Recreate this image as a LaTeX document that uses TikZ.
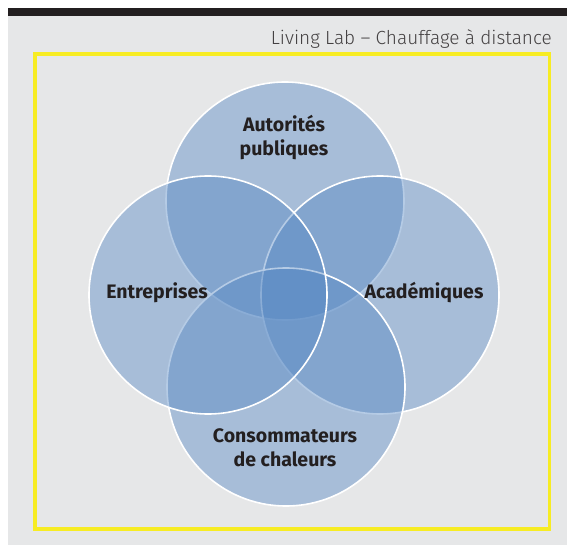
\documentclass[tikz,border=0pt]{standalone}
\usepackage{fontspec}
\setmainfont{Fira Sans}
\newfontfamily\titlefont{Fira Sans Light}
\definecolor{ink}{RGB}{35,31,32}
\definecolor{bggray}{RGB}{230,231,232}
\definecolor{vennblue}{RGB}{85,135,195}
\definecolor{frameyellow}{RGB}{247,236,35}

\begin{document}
\begin{tikzpicture}[
    x=1pt, y=-1pt,
    circ/.style={circle, draw=white, line width=1.6pt, fill=vennblue, fill opacity=0.43, minimum size=238pt, inner sep=0pt},
    lbl/.style={font=\bfseries\fontsize{19.5}{24}\selectfont, text=ink, align=center},
    title/.style={font=\titlefont\fontsize{19}{22}\selectfont, text=ink!85, inner sep=0pt}
]
\useasboundingbox (0,0) rectangle (567,545);
\fill[white] (0,0) rectangle (567,545);
\fill[bggray] (8,8) rectangle (567,545);
\fill[ink] (8,8) rectangle (567,16);
\draw[frameyellow, line width=3.5pt] (35,54) rectangle (549.5,529);

\node (titre) [title, anchor=east] at (552,39) {Living Lab – Chauffage à distance};

% les quatre cercles
\node (autorites) [circ] at (285,201) {};
\node (academiques) [circ] at (380,295) {};
\node (consommateurs) [circ] at (286,387) {};
\node (entreprises) [circ] at (208,295) {};

\node (lautorites) [lbl] at (284,138) {Autorités\\publiques};
\node (lentreprises) [lbl] at (157,293) {Entreprises};
\node (lacademiques) [lbl] at (424,293) {Académiques};
\node (lconsommateurs) [lbl] at (285,448) {Consommateurs\\de chaleurs};

\end{tikzpicture}
\end{document}
